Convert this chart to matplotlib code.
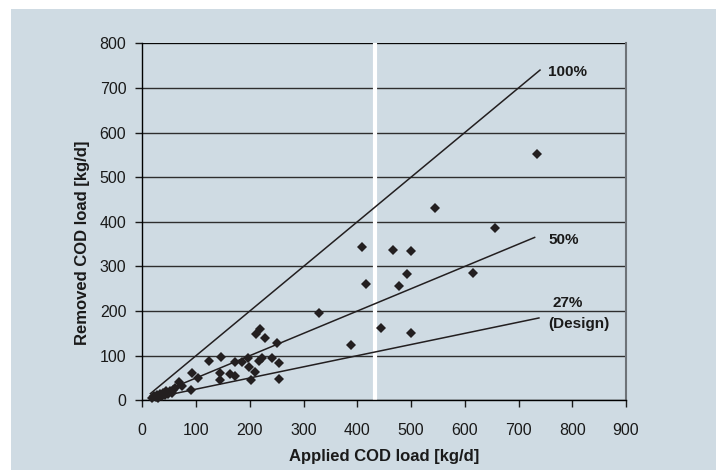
import matplotlib
matplotlib.use("Agg")
import matplotlib.pyplot as plt
from matplotlib.patches import Rectangle

plt.rcParams['font.family'] = ['Liberation Sans', 'DejaVu Sans']

# measured points: applied vs removed COD load [kg/d]
applied = [18, 21, 25, 27, 30, 33, 36, 39, 42, 45, 48, 52, 55, 58, 61, 69, 73,
           90, 93, 103, 124, 147, 145, 145, 164, 173, 173, 185, 196, 198, 202,
           210, 212, 218, 222, 219, 229, 241, 250, 255, 255, 328, 388, 408, 416,
           444, 467, 478, 493, 500, 500, 545, 616, 656, 734]
removed = [5, 9, 7, 11, 6, 14, 10, 16, 12, 20, 15, 20, 17, 24, 28, 42, 33,
           22, 62, 49, 89, 96, 61, 46, 59, 54, 85, 85, 94, 74, 46,
           64, 149, 89, 95, 160, 139, 94, 128, 83, 48, 196, 123, 344, 260,
           162, 337, 257, 283, 334, 151, 430, 286, 387, 553]

# removal efficiency lines
line_ratio = [1.0, 0.5, 0.25]
line_start = [15, 15, 15]
line_end = [740, 730, 738]

# line annotations
ann_text = ['100%', '50%', '27%', '(Design)']
ann_x = [755, 755, 764, 755]
ann_y = [736, 360, 217, 170]

design_limit = 433  # white vertical marker

bg = '#cfdbe3'
fig = plt.figure(figsize=(7.16, 4.70), dpi=100, facecolor='white')
fig.patches.append(Rectangle((11 / 716, 0), 1, 1 - 9 / 470, transform=fig.transFigure,
                             facecolor=bg, edgecolor='none', zorder=-10))
ax = fig.add_axes([142.3 / 716, 1 - 400.3 / 470, (626 - 142.3) / 716, (400.3 - 43.3) / 470])
ax.set_facecolor(bg)

ax.set_xlim(0, 900)
ax.set_ylim(0, 800)
ax.set_xticks(range(0, 901, 100))
ax.set_yticks(range(0, 801, 100))

ax.yaxis.grid(True, color='#2e2e2e', linewidth=1.0)
ax.set_axisbelow(True)
ax.spines['top'].set_visible(False)
ax.spines['right'].set_color('#6e7378')
ax.spines['right'].set_linewidth(1.5)
ax.spines['left'].set_color('black')
ax.spines['bottom'].set_color('black')
ax.spines['left'].set_linewidth(1.0)
ax.spines['bottom'].set_linewidth(1.0)
ax.axhline(800, color='black', linewidth=1.2, zorder=1)

ax.tick_params(axis='y', direction='out', length=5, width=1, pad=6.5, labelsize=11.5, colors='#1a1a1a')
ax.tick_params(axis='x', direction='out', length=5, width=1, pad=11.5, labelsize=11.5, colors='#1a1a1a')

ax.axvline(design_limit, color='white', linewidth=3, zorder=2)

for r, x0, x1 in zip(line_ratio, line_start, line_end):
    ax.plot([x0, x1], [r * x0, r * x1], color='#231f20', linewidth=1.1, zorder=3)

for t, x, y in zip(ann_text, ann_x, ann_y):
    ax.text(x, y, t, fontsize=11, fontweight='bold', va='center', ha='left', color='#1a1a1a')

ax.plot(applied, removed, 'D', color='#231f20', markersize=4.6, markeredgewidth=0, zorder=4,
        clip_on=False)

fig.text(384 / 716, 1 - 457 / 470, 'Applied COD load [kg/d]', fontsize=12, fontweight='bold',
         ha='center', va='center', color='#1a1a1a')
fig.text(82.5 / 716, 1 - 243 / 470, 'Removed COD load [kg/d]', fontsize=12, fontweight='bold',
         ha='center', va='center', rotation=90, color='#1a1a1a')

fig.savefig('out.png', dpi=100, facecolor='white')
